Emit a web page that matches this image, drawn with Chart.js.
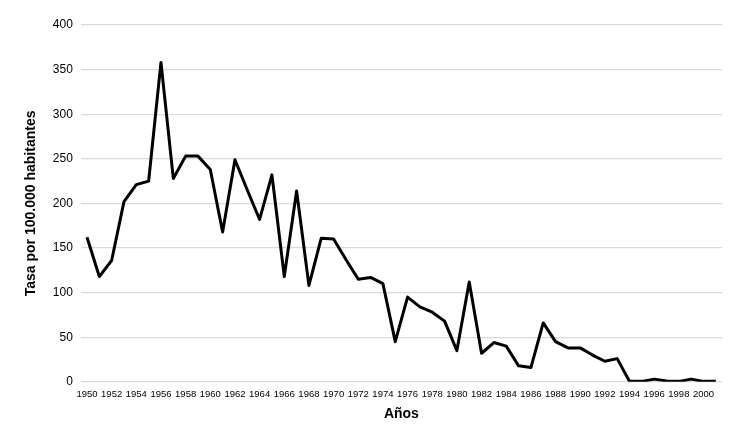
<!DOCTYPE html>
<html>
<head>
<meta charset="utf-8">
<script src="https://cdn.jsdelivr.net/npm/chart.js@4"></script>
<style>
  html, body { margin: 0; padding: 0; background: #fff; }
  #wrap { width: 746px; height: 434px; }
</style>
</head>
<body>
<div id="wrap"><canvas id="myChart"></canvas></div>
<script>
const years = [
  1950, 1951, 1952, 1953, 1954, 1955, 1956, 1957, 1958, 1959,
  1960, 1961, 1962, 1963, 1964, 1965, 1966, 1967, 1968, 1969,
  1970, 1971, 1972, 1973, 1974, 1975, 1976, 1977, 1978, 1979,
  1980, 1981, 1982, 1983, 1984, 1985, 1986, 1987, 1988, 1989,
  1990, 1991, 1992, 1993, 1994, 1995, 1996, 1997, 1998, 1999,
  2000, 2001,
];
const rates = [
  162, 118, 136, 202, 221, 225, 358, 228, 253, 253,
  238, 168, 249, 215, 182, 232, 118, 214, 108, 161,
  160, 137, 115, 117, 110, 45, 95, 84, 78, 68,
  35, 112, 32, 44, 40, 18, 16, 66, 45, 38,
  38, 30, 23, 26, 0.5, 0.5, 3, 1, 0.5, 3,
  0.5, 0.5,
];
const yTicks = [0, 50, 100, 150, 200, 250, 300, 350, 400];

const font = "'Liberation Sans', Arial, sans-serif";

const config = {
  type: "line",
  data: {
    labels: years,
    datasets: [
      {
        data: rates,
        borderColor: "#000",
        borderWidth: 3,
        borderJoinStyle: "round",
        pointRadius: 0,
        tension: 0,
        fill: false,
      },
    ],
  },
  options: {
    responsive: true,
    maintainAspectRatio: false,
    animation: false,
    layout: { padding: { left: 19, right: 24, top: 25, bottom: 7 } },
    plugins: {
      legend: { display: false },
      tooltip: { enabled: false },
    },
    scales: {
      x: {
        type: "category",
        offset: true,
        grid: { display: false, drawTicks: false },
        border: { display: false },
        ticks: {
          autoSkip: false,
          maxRotation: 0,
          minRotation: 0,
          padding: 7,
          color: "#000",
          font: { family: font, size: 9.5 },
          callback: function (value, index) {
            const y = years[index];
            return y % 2 === 0 ? String(y) : "";
          },
        },
        title: {
          display: true,
          text: "Años",
          color: "#000",
          font: { family: font, size: 14, weight: "bold" },
          padding: { top: -1 },
        },
      },
      y: {
        min: yTicks[0],
        max: yTicks[yTicks.length - 1],
        afterBuildTicks: function (axis) {
          axis.ticks = yTicks.map((v) => ({ value: v }));
        },
        grid: { color: "#d9d9d9", lineWidth: 1.3, drawTicks: false },
        border: { display: false },
        ticks: {
          padding: 8,
          color: "#000",
          font: { family: font, size: 12 },
        },
        title: {
          display: true,
          text: "Tasa por 100.000 habitantes",
          color: "#000",
          font: { family: font, size: 14, weight: "bold" },
          padding: { bottom: 5 },
        },
      },
    },
  },
};

const myChart = new Chart(document.getElementById("myChart"), config);
</script>
</body>
</html>
